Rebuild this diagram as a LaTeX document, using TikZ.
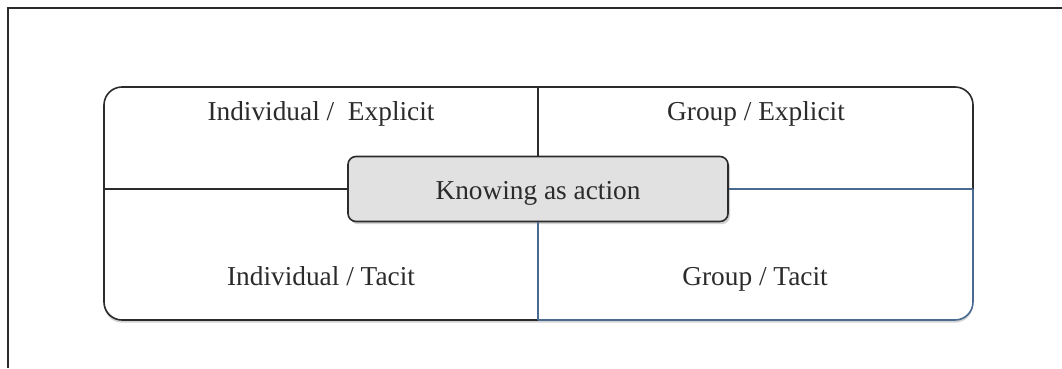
\documentclass[tikz,border=0pt]{standalone}
\usepackage{fontspec}
\setmainfont{Liberation Serif}
\usetikzlibrary{shadows,positioning}
\definecolor{quadblue}{HTML}{4A6A92}
\definecolor{corefill}{HTML}{E1E1E1}
\definecolor{inkgray}{HTML}{2B2B2B}

\tikzset{
  quadlabel/.style={anchor=base, text=inkgray, font=\fontsize{20.5}{24}\selectfont},
  corebox/.style={draw=inkgray, fill=corefill, rounded corners=6pt, line width=1.2pt,
    minimum width=285pt, minimum height=48.75pt, inner sep=0pt,
    text height=20pt, text depth=4.5pt,
    font=\fontsize{20.5}{24}\selectfont, text=inkgray,
    drop shadow={opacity=0.35, shadow xshift=1.5pt, shadow yshift=-2pt}},
  softshadow/.style={drop shadow={opacity=0.35, shadow xshift=0pt, shadow yshift=-2pt}}
}

\begin{document}
\begin{tikzpicture}[x=0.75pt, y=-0.75pt, line width=1.2pt]
  \useasboundingbox (0,0) rectangle (1062,368);

  % outer frame
  \draw[inkgray, line width=1.4pt] (8,368) -- (8,8) -- (1062,8);

  % quadrant box
  \fill[white, rounded corners=13.5pt, softshadow] (104,87) rectangle (973,320);
  \coordinate (top) at (538,87);
  \coordinate (bot) at (538,320);
  \coordinate (lft) at (104,189);
  \coordinate (rgt) at (973,189);
  \draw[inkgray, rounded corners=13.5pt] (bot) -- (104,320) -- (104,87) -- (973,87) -- (rgt);
  \draw[quadblue, rounded corners=13.5pt] (rgt) -- (973,320) -- (bot);

  % centre
  \node[corebox] (core) at (538,189) {Knowing as action};
  \draw[inkgray] (top) -- (core.north);
  \draw[inkgray] (lft) -- (core.west);
  \draw[quadblue] (core.east) -- (rgt);
  \draw[quadblue] (core.south) -- (bot);

  % quadrants
  \node[quadlabel] (indexp) at (321,120) {Individual /\ \ Explicit};
  \node[quadlabel] (grpexp) at (756,120) {Group / Explicit};
  \node[quadlabel] (indtac) at (321,285) {Individual / Tacit};
  \node[quadlabel] (grptac) at (755,285) {Group / Tacit};
\end{tikzpicture}
\end{document}
